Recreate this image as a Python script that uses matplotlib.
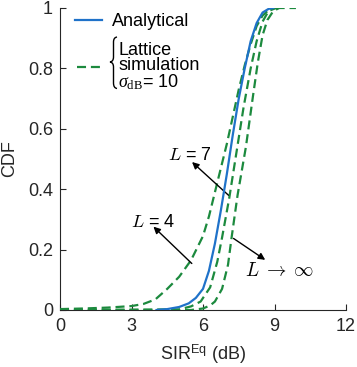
import numpy as np
import matplotlib
matplotlib.use('Agg')
import matplotlib.pyplot as plt
from matplotlib.path import Path
from matplotlib.patches import PathPatch

# values
sir_analytical = [4.05, 4.5, 5.0, 5.4, 5.7, 6.0, 6.25, 6.5, 6.75, 7.0, 7.25, 7.5, 7.75, 8.0, 8.25, 8.5, 8.75, 8.95]
cdf_analytical = [0.0, 0.003, 0.01, 0.022, 0.04, 0.07, 0.13, 0.22, 0.33, 0.45, 0.58, 0.70, 0.80, 0.89, 0.95, 0.985, 0.997, 1.0]

sir_l4 = [0, 1, 2, 3, 3.5, 4.0, 4.5, 5.0, 5.5, 6.0, 6.25, 6.5, 6.75, 7.0, 7.25, 7.5, 7.75, 8.0, 8.25, 8.5, 8.75, 9.0]
cdf_l4 = [0.003, 0.005, 0.008, 0.013, 0.02, 0.035, 0.07, 0.11, 0.165, 0.245, 0.31, 0.39, 0.47, 0.55, 0.64, 0.73, 0.81, 0.88, 0.94, 0.975, 0.993, 1.0]

sir_l7 = [0, 5.0, 5.5, 5.9, 6.3, 6.6, 6.8, 7.1, 7.4, 7.7, 8.0, 8.25, 8.5, 8.75, 9.0, 9.1]
cdf_l7 = [0, 0.002, 0.012, 0.028, 0.075, 0.16, 0.24, 0.37, 0.52, 0.67, 0.80, 0.89, 0.955, 0.99, 0.998, 1.0]

sir_linf = [0, 5.5, 6.0, 6.3, 6.5, 6.8, 7.05, 7.2, 7.45, 7.8, 8.1, 8.3, 8.5, 8.7, 8.95, 9.2, 9.9]
cdf_linf = [0, 0.0, 0.005, 0.015, 0.028, 0.07, 0.15, 0.24, 0.38, 0.54, 0.71, 0.82, 0.91, 0.96, 0.99, 1.0, 1.0]

x_ticks = [0, 3, 6, 9, 12]
y_ticks = [0, 0.2, 0.4, 0.6, 0.8, 1]
y_tick_labels = ['0', '0.2', '0.4', '0.6', '0.8', '1']

plt.rcParams['font.family'] = ['Liberation Sans', 'DejaVu Sans']
plt.rcParams['mathtext.fontset'] = 'custom'
plt.rcParams['mathtext.rm'] = 'Liberation Serif'
plt.rcParams['mathtext.it'] = 'Liberation Serif:italic'
plt.rcParams['mathtext.sf'] = 'Liberation Sans'
plt.rcParams['lines.scale_dashes'] = False

W, H = 357, 367
fig = plt.figure(figsize=(W / 100, H / 100), dpi=100)
ax = fig.add_axes([60 / W, 1 - 310 / H, 286 / W, 302 / H])

blue = '#1f72c9'
green = '#1c8a3e'
dash = (6.5, 3.5)
fs = 13

la, = ax.plot(sir_analytical, cdf_analytical, color=blue, lw=1.6, zorder=4)
l4, = ax.plot(sir_l4, cdf_l4, color=green, lw=1.6, dashes=dash, zorder=3)
ax.plot(sir_l7, cdf_l7, color=green, lw=1.6, dashes=dash, zorder=3)
ax.plot(sir_linf, cdf_linf, color=green, lw=1.6, dashes=dash, zorder=3)

ax.set_xlim(0, 12)
ax.set_ylim(0, 1)
ax.set_xticks(x_ticks)
ax.set_yticks(y_ticks)
ax.set_yticklabels(y_tick_labels)
ax.tick_params(direction='in', length=4, width=0.8, labelsize=fs, colors='#262626')
ax.tick_params(axis='y', pad=5)
ax.tick_params(axis='x', pad=6)
for s in ['top', 'right']:
    ax.spines[s].set_visible(False)
for s in ['left', 'bottom']:
    ax.spines[s].set_color('#262626')
    ax.spines[s].set_linewidth(0.8)

ax.set_xlabel('SIR$^{\\mathsf{Eq}}$ (dB)', fontsize=fs, color='#262626', labelpad=5)
ax.set_ylabel('CDF', fontsize=fs, color='#262626', labelpad=7)

# two legends so the lattice label can sit further right (room for the brace)
leg1 = ax.legend([la], ['Analytical'], loc='center left', bbox_to_anchor=(75 / W, 1 - 22 / H),
                 bbox_transform=fig.transFigure, frameon=False, fontsize=fs,
                 handlelength=1.5, handletextpad=0.55, borderpad=0, borderaxespad=0)
ax.add_artist(leg1)
leg2 = ax.legend([l4], ['Lattice\nsimulation\n$\\sigma_{\\mathrm{dB}}$= 10'], loc='center left',
                 bbox_to_anchor=(77 / W, 1 - 67 / H), bbox_transform=fig.transFigure,
                 frameon=False, fontsize=fs, handlelength=1.45, handletextpad=0.83,
                 borderpad=0, borderaxespad=0)
for t in leg2.get_texts():
    t.set_linespacing(0.9)

# curly brace in front of the lattice label
def fp(x, y):
    return (x / W, 1 - y / H)

verts = [fp(117, 37), fp(113.5, 37.5), fp(113.5, 42), fp(113.5, 57),
         fp(113.5, 61.5), fp(110, 62), fp(113.5, 62.5), fp(113.5, 67),
         fp(113.5, 83), fp(113.5, 88), fp(117, 88.5)]
codes = [Path.MOVETO, Path.CURVE3, Path.CURVE3, Path.LINETO,
         Path.CURVE3, Path.CURVE3, Path.CURVE3, Path.CURVE3,
         Path.LINETO, Path.CURVE3, Path.CURVE3]
fig.add_artist(PathPatch(Path(verts, codes), transform=fig.transFigure,
                         facecolor='none', edgecolor='black', lw=1.0))

arrow = dict(arrowstyle='-|>', color='black', lw=1.0, mutation_scale=10, shrinkA=0, shrinkB=0)
ax.text(5.46, 0.51, '$L$ = 7', fontsize=13, ha='center', va='center', math_fontfamily='cm')
ax.annotate('', xy=(5.54, 0.49), xytext=(7.07, 0.38), arrowprops=arrow)
ax.text(3.9, 0.29, '$L$ = 4', fontsize=13, ha='center', va='center', math_fontfamily='cm')
ax.annotate('', xy=(3.92, 0.276), xytext=(5.53, 0.154), arrowprops=arrow)
ax.text(9.2, 0.13, '$L\\;\\rightarrow\\;\\infty$', fontsize=14, ha='center', va='center',
        math_fontfamily='cm')
ax.annotate('', xy=(8.61, 0.166), xytext=(7.28, 0.237), arrowprops=arrow)

fig.savefig('out.png', dpi=100)
